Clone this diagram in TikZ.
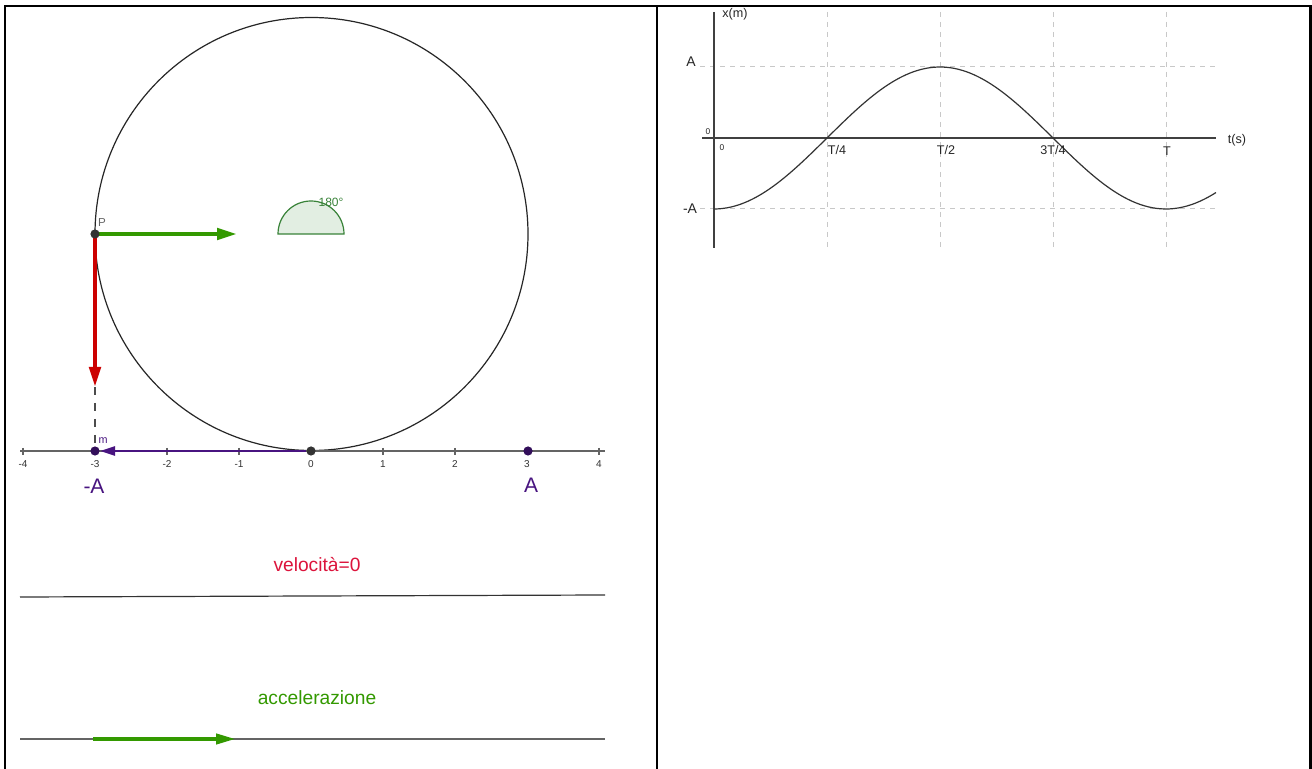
\documentclass[tikz,border=0pt]{standalone}
\usepackage{fontspec}
\setmainfont{Liberation Sans}
\usetikzlibrary{arrows.meta}
\pgfdeclarelayer{under}
\pgfsetlayers{under,main}
\definecolor{ggreen}{RGB}{51,153,0}
\definecolor{gred}{RGB}{204,0,0}
\definecolor{gpurple}{RGB}{72,20,128}
\definecolor{gcrimson}{RGB}{220,20,60}
\definecolor{anglestroke}{RGB}{56,130,56}
\definecolor{anglefill}{RGB}{226,238,226}
\definecolor{gridgray}{RGB}{200,200,200}
\definecolor{axisgray}{RGB}{100,100,100}
\definecolor{dotgray}{RGB}{51,51,51}
\tikzset{
  border/.style={line width=1.25pt, black},
  dotpt/.style={circle, fill=#1, inner sep=0pt, minimum size=4.6pt},
  ticklbl/.style={font=\fontsize{5}{5}\selectfont, text=black!80, inner sep=0pt},
  smalllbl/.style={font=\fontsize{5.4}{6}\selectfont, inner sep=0pt},
  biglbl/.style={font=\fontsize{10.5}{11}\selectfont, inner sep=0pt},
  midlbl/.style={font=\fontsize{9.6}{10}\selectfont, inner sep=0pt},
  graphlbl/.style={font=\fontsize{6.3}{7}\selectfont, text=black!85, inner sep=0pt},
  vecarrow/.style={line width=2pt, -{Triangle[length=10pt,width=5.6pt]}},
  gridline/.style={gridgray, dash pattern=on 2.5pt off 2.5pt, line width=0.5pt},
  axisline/.style={axisgray, line width=0.7pt},
}
\begin{document}
\begin{tikzpicture}[x=0.5pt,y=-0.5pt]
\begin{pgfonlayer}{under}
\fill[white] (0,0) rectangle (1312,769);
\end{pgfonlayer}
\useasboundingbox (0,0) rectangle (1312,769);

% table borders
\draw[border] (4,6) -- (1312,6);
\draw[border] (5,6) -- (5,769);
\draw[border] (657,6) -- (657,769);
\draw[border] (1310.5,6) -- (1310.5,769);

% ---------- left panel ----------
\coordinate (C) at (311.5,234);
\begin{pgfonlayer}{under}
\draw[line width=0.6pt, black!85] (C) circle[radius=216.5];
\end{pgfonlayer}

% angle sector
\filldraw[fill=anglefill, draw=anglestroke, line width=0.6pt]
  (278,234) arc[start angle=180, end angle=360, radius=33] -- cycle;
\node[smalllbl, text=anglestroke, font=\fontsize{6}{6}\selectfont] (ang) at (331,202) {180°};

% number axis
\draw[axisline] (20,451) -- (605,451);
\foreach \k in {-4,...,4} {
  \draw[axisline] ({311+72*\k},448) -- ({311+72*\k},455);
  \node[ticklbl] (tk\k) at ({311+72*\k},464) {\k};
}

% points
\node[dotpt=dotgray] (O) at (311,451) {};
\node[dotpt=gpurple!70!black] (M) at (95,451) {};
\node[dotpt=gpurple!70!black] (Ap) at (528,451) {};
\node[dotpt=dotgray] (P) at (95,234) {};
\node[smalllbl, text=black!60, font=\fontsize{5.8}{6}\selectfont] (Plbl) at (102,223) {P};
\node[smalllbl, text=gpurple] (mlbl) at (103,441) {m};
\node[biglbl, text=gpurple] (mA) at (94,486) {-A};
\node[biglbl, text=gpurple] (pA) at (531,485) {A};

% vectors
\coordinate (vtip) at (237,234);
\coordinate (atip) at (95,387);
\begin{pgfonlayer}{under}
\draw[black!70, line width=0.6pt, dash pattern=on 4pt off 4pt] (atip) -- (M.center);
\draw[vecarrow, ggreen] (P.center) -- (vtip);
\draw[vecarrow, gred] (P.center) -- (atip);
\end{pgfonlayer}
\draw[gpurple, line width=1.3pt, -{Triangle[length=7.5pt,width=4.5pt]}] (O) -- (M);

% velocity row
\node[midlbl, text=gcrimson] (vel) at (317,565) {velocità=0};
\coordinate (vl1) at (20,597);
\coordinate (vl2) at (605,595);
\draw[black!80, line width=0.6pt] (vl1) -- (vl2);

% acceleration row
\node[midlbl, text=ggreen] (acc) at (317,698) {accelerazione};
\coordinate (al1) at (20,739);
\coordinate (al2) at (605,739);
\draw[axisline] (al1) -- (al2);
\coordinate (aa1) at (93,739);
\coordinate (aa2) at (236,739);
\draw[vecarrow, ggreen, -{Triangle[length=10pt,width=5pt]}] (aa1) -- (aa2);

% ---------- right panel: graph ----------
\foreach \gx in {827,940,1053,1166} {
  \draw[gridline] (\gx,12) -- (\gx,248);
}
\draw[gridline] (700,67) -- (1216,67);
\draw[gridline] (700,209) -- (1216,209);
\draw[black!75, line width=0.6pt] (702,138) -- (1216,138);
\draw[black!75, line width=0.6pt] (714,12) -- (714,248);
\draw[black!80, line width=0.6pt, domain=0:502, samples=120, smooth]
  plot ({714+\x}, {138+71*cos(0.79646*\x)});

\node[graphlbl] (xm) at (735,14) {x(m)};
\node[graphlbl] (ts) at (1237,140) {t(s)};
\node[graphlbl, font=\fontsize{7}{7}\selectfont] (gA) at (691,62) {A};
\node[graphlbl, font=\fontsize{7}{7}\selectfont, fill=white, inner xsep=0.3pt] (gmA) at (690,209) {-A};
\node[graphlbl, font=\fontsize{4.2}{5}\selectfont] (z1) at (708,132) {0};
\node[graphlbl, font=\fontsize{4.2}{5}\selectfont] (z2) at (722,148) {0};
\node[graphlbl] (t1) at (837,150) {T/4};
\node[graphlbl] (t2) at (946,150) {T/2};
\node[graphlbl] (t3) at (1053,150) {3T/4};
\node[graphlbl] (t4) at (1167,151) {T};
\end{tikzpicture}
\end{document}
